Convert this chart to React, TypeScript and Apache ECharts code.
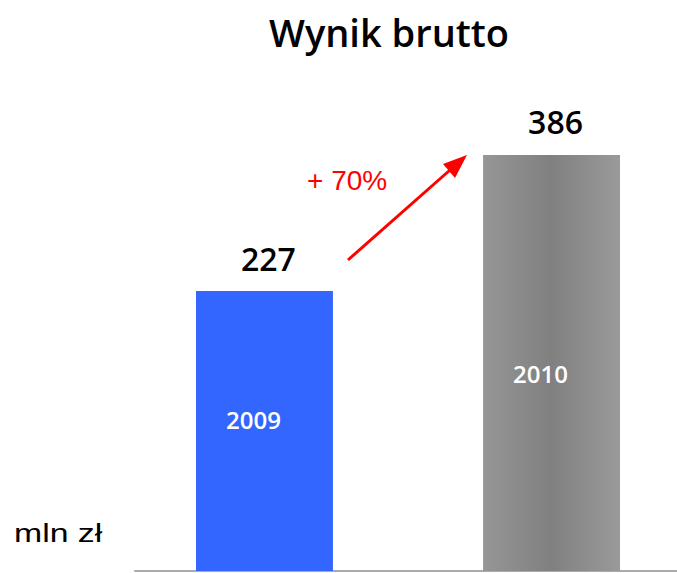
import React, { useEffect, useRef } from "react";
import * as echarts from "echarts";

// ---- data ----
const categories = ["2009", "2010"];
const values = [227, 386];
const titleText = "Wynik brutto";
const unitText = "mln zł";
const changeText = "+ 70%";

// ---- layout constants ----
const Y_MIN = -100;
const Y_MAX = 500;
const yearLabelFraction = [0.457, 0.525]; // position of year label inside each bar (from top)
const yearLabelShiftX = -11;
const valueLabelShiftX = 4;
const barColors = ["#3366FF", "gray"];

export default function App() {
  const ref = useRef<HTMLDivElement>(null);
  useEffect(() => {
    if (!ref.current) return;
    const chart = echarts.init(ref.current, undefined, { renderer: "svg" });
    const grayGrad = new echarts.graphic.LinearGradient(0, 0, 1, 0, [
      { offset: 0, color: "#969696" },
      { offset: 0.5, color: "#808080" },
      { offset: 1, color: "#9a9a9a" },
    ]);
    const option: any = {
      animation: false,
      backgroundColor: "#ffffff",
      title: {
        text: titleText,
        left: 384,
        top: 8,
        textAlign: "center",
        textStyle: {
          fontFamily: "Open Sans",
          fontWeight: 600,
          fontSize: 38,
          color: "#000",
        },
      },
      grid: { left: 135, right: 0, top: 57.4, bottom: 2 },
      xAxis: {
        type: "value",
        min: -0.451,
        max: 1.437,
        axisLine: { show: true, onZero: false, lineStyle: { color: "#aaaaaa", width: 2 } },
        axisTick: { show: false },
        axisLabel: { show: false },
        splitLine: { show: false },
      },
      yAxis: {
        type: "value",
        min: Y_MIN,
        max: Y_MAX,
        show: false,
        splitLine: { show: false },
      },
      series: [
        {
          type: "custom",
          clip: false,
          data: categories.map((c, i) => [i, values[i]]),
          renderItem: (params: any, api: any) => {
            const idx = api.value(0);
            const val = api.value(1);
            const top = api.coord([idx, val]);
            const base = api.coord([idx, Y_MIN]);
            const w = api.size([1, 0])[0] * 0.477;
            const h = base[1] - top[1];
            const fill = barColors[idx] === "gray" ? grayGrad : barColors[idx];
            return {
              type: "group",
              children: [
                {
                  type: "rect",
                  shape: { x: top[0] - w / 2, y: top[1], width: w, height: h },
                  style: { fill },
                },
                {
                  type: "text",
                  style: {
                    text: String(values[idx]),
                    x: top[0] + valueLabelShiftX,
                    y: top[1] - 33,
                    fill: "#000",
                    font: "600 32px 'Open Sans'",
                    align: "center",
                    verticalAlign: "middle",
                    textAlign: "center",
                    textVerticalAlign: "middle",
                  },
                },
                {
                  type: "text",
                  style: {
                    text: categories[idx],
                    x: top[0] + yearLabelShiftX,
                    y: top[1] + h * yearLabelFraction[idx],
                    fill: "#ffffff",
                    font: "600 24px 'Open Sans'",
                    align: "center",
                    verticalAlign: "middle",
                    textAlign: "center",
                    textVerticalAlign: "middle",
                  },
                },
              ],
            };
          },
        },
      ],
      graphic: [
        {
          type: "text",
          x: 14,
          y: 533,
          scaleX: 1.3,
          style: {
            text: unitText,
            fill: "#000",
            font: "26px 'Liberation Sans'",
            verticalAlign: "middle",
            textVerticalAlign: "middle",
          },
        },
        {
          type: "text",
          left: 307,
          top: 166,
          style: {
            text: changeText,
            fill: "#ff0000",
            font: "28px 'Liberation Sans'",
          },
        },
        {
          type: "line",
          shape: { x1: 348, y1: 260, x2: 450, y2: 170 },
          style: { stroke: "#ff0000", lineWidth: 3 },
        },
        {
          type: "polygon",
          shape: { points: [[467, 155], [443, 164], [455, 178]] },
          style: { fill: "#ff0000" },
        },
      ],
    };
    chart.setOption(option);
    return () => chart.dispose();
  }, []);
  return (
    <div
      ref={ref}
      style={{ position: "absolute", left: 0, top: 0, width: 677, height: 573 }}
    />
  );
}
